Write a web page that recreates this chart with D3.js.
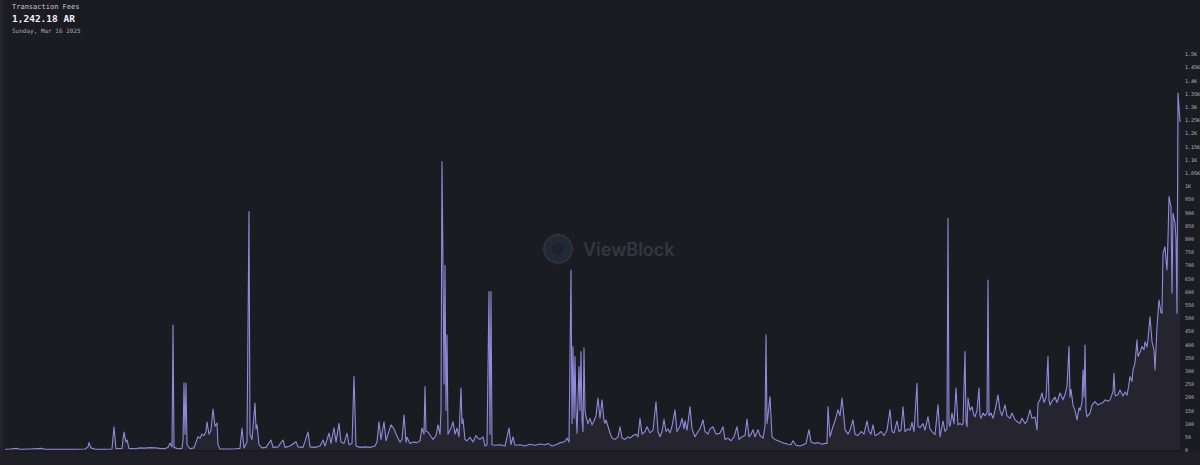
<!DOCTYPE html>
<html>
<head>
<meta charset="utf-8">
<style>
  html, body {
    margin: 0;
    padding: 0;
    background: #1b1b22;
  }
  svg { display: block; }
  .title { font-family: "DejaVu Sans Mono", monospace; }
  .yaxis text { font-family: "DejaVu Sans Mono", monospace; font-size: 5px; fill: #b4b4be; }
</style>
</head>
<body>
<svg width="1200" height="465"></svg>
<script src="https://d3js.org/d3.v7.min.js"></script>
<script>

// daily transaction fees (AR), [day, fee], last day = Sunday, Mar 16 2025
var fees2022a = [[0,3],[5,4],[12,6],[15,3],[25,4],[37,6],[40,3],[55,3],[70,3],[80,4],[83,12],[84,28],[86,8],[90,3],
  [100,3],[107,4],[109,88],[111,5],[117,6],[119,68],[121,30],[122,38],[124,6],[130,5],[135,8],[140,7],[145,9],
  [150,8],[155,6],[160,5],[163,10],[165,26],[167,12],[168,473],[169,10],[173,5],[177,6],[178,40],[179,254],
  [180,60],[181,254],[182,20],[185,5],[189,8],[191,30],[193,50],[195,45],[197,60],[199,55],[201,70],[202,106],
  [204,60],[206,75],[208,155],[210,90],[212,102],[213,20],[215,4],[223,4],[231,5],[235,6]];

var fees2022b = [[237,83],[239,8],[242,30],[244,903],[245,60],[247,40],[250,178],[251,80],[252,95],[254,20],
  [257,8],[261,10],[266,38],[268,10],[273,12],[278,38],[280,10],[285,15],[291,31],[293,12],[298,10],[303,68],
  [305,12],[310,10],[315,15],[318,38],[320,15],[324,64],[326,25],[329,84],[331,30],[334,101],[336,30],[339,25],
  [342,64],[344,20],[347,25],[349,278],[351,15],[355,10],[360,12],[365,10],[370,15],[372,30],[374,107],[376,40],
  [379,107],[381,35],[383,60],[386,95],[389,80],[392,52],[395,30],[397,40],[399,132],[401,30],[402,48],[405,25],
  [408,30],[412,28],[415,35],[417,83],[419,60],[420,240],[421,70],[423,68],[425,57],[428,40],[431,55],[433,95],
  [435,60],[436,150],[437,1093],[438,700],[439,250],[440,700],[441,150],[442,436],[443,60],[446,83],[448,107],
  [450,60],[452,83],[454,50],[456,235],[457,100],[458,117],[460,40],[462,35],[465,48],[468,30],[471,55],[473,45],[475,40]];

var fees2023 = [[478,50],[480,15],[482,20],[484,600],[485,60],[486,600],[487,20],[490,18],[495,20],[500,15],
  [504,83],[506,20],[508,50],[510,18],[515,20],[520,15],[525,22],[530,18],[535,23],[540,20],[543,25],[547,15],
  [551,20],[555,27],[560,32],[562,45],[564,30],[566,682],[567,100],[568,392],[569,120],[570,354],[571,150],
  [572,64],[574,316],[575,150],[576,373],[577,120],[578,70],[579,387],[580,150],[581,126],[583,100],[585,120],
  [587,95],[589,110],[591,130],[593,197],[595,120],[597,190],[599,110],[600,101],[601,114],[603,90],[605,64],
  [607,45],[610,40],[613,50],[615,88],[617,45],[620,40],[623,50],[625,45],[628,55],[631,60],[633,50],[635,120],
  [637,60],[640,70],[642,88],[645,65],[648,75],[651,183],[653,70],[655,50],[657,70],[659,116],[661,70],[663,80],
  [665,65],[667,90],[670,152],[672,70],[675,90],[677,120],[679,80],[680,110],[682,75],[685,164],[687,80],
  [690,50],[693,70],[695,80],[698,114],[700,70],[703,60],[705,80],[708,88],[711,60],[715,64]];

var fees2024 = [[718,88],[720,40],[723,45],[726,35],[729,50],[732,88],[734,40],[737,50],[740,55],[742,117],
  [744,50],[746,60],[748,77],[750,50],[753,77],[755,55],[758,45],[760,90],[761,436],[762,101],[763,130],
  [765,202],[767,50],[770,40],[773,35],[776,30],[780,25],[783,22],[786,20],[788,35],[791,18],[795,15],[798,20],
  [801,25],[804,77],[806,30],[810,25],[813,28],[817,22],[820,25],[822,25],[823,164],[825,50],[828,90],[830,110],
  [833,152],[835,130],[837,197],[839,120],[840,77],[843,60],[845,75],[848,114],[850,60],[853,55],[856,70],
  [859,60],[862,110],[864,70],[866,60],[868,95],[870,55],[873,60],[876,70],[879,55],[882,75],[885,152],[887,70],
  [889,65],[892,110],[894,70],[896,75],[898,164],[900,70],[903,80],[905,75],[907,105],[909,70],[912,253],
  [913,90],[915,85],[918,100],[920,75],[923,126],[925,80],[927,70],[930,58],[933,171],[935,50],[938,110],
  [940,70],[942,80],[943,878],[944,100],[945,90],[947,140],[949,100],[951,235],[953,95],[955,101]];

var fees2025 = [[957,95],[958,100],[960,373],[961,110],[962,88],[963,197],[965,150],[967,164],[969,130],
  [970,126],[972,150],[974,235],[975,130],[976,120],[978,140],[980,130],[982,140],[983,644],[984,130],[986,140],
  [988,120],[990,150],[993,208],[995,150],[997,130],[1000,171],[1002,130],[1005,120],[1007,140],[1010,115],
  [1013,105],[1015,101],[1017,120],[1020,100],[1022,110],[1025,152],[1027,120],[1030,125],[1032,76],[1033,178],
  [1035,190],[1037,216],[1039,180],[1041,200],[1043,354],[1044,190],[1045,170],[1047,185],[1050,200],[1052,180],
  [1055,216],[1057,200],[1058,190],[1060,210],[1062,240],[1064,392],[1065,200],[1066,230],[1068,170],[1070,150],
  [1072,114],[1074,160],[1075,150],[1077,180],[1078,303],[1079,200],[1080,398],[1081,150],[1082,126],[1085,140],
  [1087,170],[1090,183],[1093,170],[1095,175],[1098,180],[1100,190],[1103,185],[1105,190],[1108,221],[1109,291],
  [1110,210],[1111,205],[1113,210],[1115,227],[1118,205],[1120,220],[1122,208],[1124,250],[1125,278],[1127,260],
  [1128,303],[1130,330],[1132,417],[1133,354],[1135,370],[1137,392],[1139,380],[1140,410],[1142,390],[1143,420],
  [1145,505],[1147,410],[1149,380],[1150,303],[1152,467],[1154,568],[1156,520],[1157,518],[1158,745],[1160,770],
  [1161,720],[1162,682],[1163,800],[1164,960],[1165,940],[1166,922],[1167,594],[1168,897],[1170,859],[1171,800],
  [1172,518],[1173,1352],[1175,1242.18]];

var yTicks = d3.range(0, 1501, 50);

var title = "Transaction Fees",
    current = "1,242.18 AR",
    dateLabel = "Sunday, Mar 16 2025";

var svg = d3.select("svg");

var data = fees2022a.concat(fees2022b, fees2023, fees2024, fees2025);

var x = d3.scaleLinear().domain([0, 1175]).range([5, 1180]);
var y = d3.scaleLinear().domain([0, 1500]).range([450, 54]);

// panel edges
svg.append("rect").attr("x", 0).attr("y", 0).attr("width", 3).attr("height", 465).attr("fill", "#24232c");
svg.append("rect").attr("x", 0).attr("y", 452).attr("width", 1200).attr("height", 13).attr("fill", "#201f27");

// watermark
var wm = svg.append("g").attr("opacity", 0.9);
wm.append("circle").attr("cx", 558).attr("cy", 249).attr("r", 14)
  .attr("fill", "#222b38").attr("stroke", "#2f353f").attr("stroke-width", 2);
[[558, 233, 558, 236], [558, 262, 558, 265], [542, 249, 545, 249], [571, 249, 574, 249]].forEach(function(t) {
  wm.append("line").attr("x1", t[0]).attr("y1", t[1]).attr("x2", t[2]).attr("y2", t[3])
    .attr("stroke", "#2f353f").attr("stroke-width", 1.5);
});
wm.append("path").attr("d", "M558,241 L565,245 L565,253 L558,257 L551,253 L551,245 Z")
  .attr("fill", "#1c2430").attr("stroke", "#283140").attr("stroke-width", 1);
wm.append("text").attr("x", 583).attr("y", 256)
  .attr("font-family", "Inter, 'Open Sans', sans-serif").attr("font-size", 18).attr("font-weight", 600)
  .attr("fill", "#383a43").text("ViewBlock");

// area + line
var area = d3.area()
    .x(function(d) { return x(d[0]); })
    .y0(y(0))
    .y1(function(d) { return y(d[1]); });

var line = d3.line()
    .x(function(d) { return x(d[0]); })
    .y(function(d) { return y(d[1]); });

svg.append("path").datum(data).attr("d", area).attr("fill", "#26252f");
svg.append("path").datum(data).attr("d", line)
  .attr("fill", "none").attr("stroke", "#8f8bdb").attr("stroke-width", 1.1)
  .attr("stroke-linejoin", "round");

// right axis
var axis = d3.axisRight(y)
    .tickValues(yTicks)
    .tickSize(0)
    .tickPadding(0)
    .tickFormat(function(d) {
      if (d < 1000) return d;
      var k = d / 1000;
      return (k % 1 === 0 ? k : k.toString()) + "K";
    });

svg.append("g").attr("class", "yaxis")
  .attr("transform", "translate(1185,0)")
  .call(axis)
  .call(function(g) { g.select(".domain").remove(); });

// header
var head = svg.append("g").attr("class", "title");
head.append("text").attr("x", 12).attr("y", 9).attr("font-size", 7).attr("fill", "#c9c9d1").text(title);
head.append("text").attr("x", 12).attr("y", 22).attr("font-size", 9.5).attr("font-weight", "bold")
  .attr("fill", "#f2f2f5").text(current);
head.append("text").attr("x", 12).attr("y", 33).attr("font-size", 6).attr("fill", "#a9a9b3").text(dateLabel);

</script>
</body>
</html>
